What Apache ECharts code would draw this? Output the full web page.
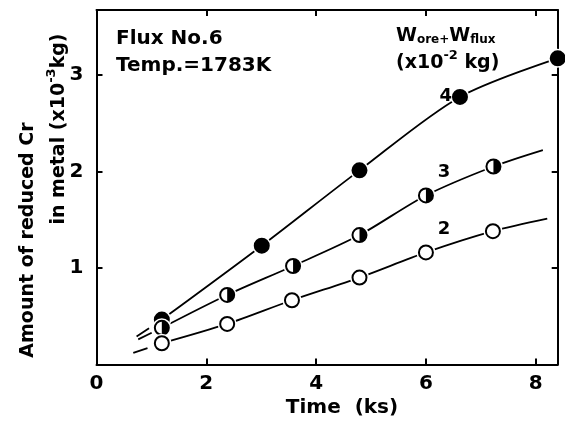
<!DOCTYPE html>
<html>
<head>
<meta charset="utf-8">
<script src="https://cdn.jsdelivr.net/npm/echarts@6/dist/echarts.min.js"></script>
<style>
html, body { margin: 0; background: #fff; }
#main { width: 565px; height: 423px; }
</style>
</head>
<body>
<div id="main"></div>
<script>
// measured points, W = 2, 3, 4 (x10^-2 kg)
var time2 = [1.19, 2.38, 3.56, 4.79, 6.00, 7.22];
var cr2 = [0.22, 0.42, 0.665, 0.90, 1.16, 1.38];
var time3 = [1.19, 2.38, 3.58, 4.79, 6.00, 7.23];
var cr3 = [0.38, 0.72, 1.02, 1.34, 1.75, 2.05];
var time4 = [1.19, 3.01, 4.79, 6.62, 8.40];
var cr4 = [0.465, 1.23, 2.01, 2.77, 3.17];

// fitted curves: dashed start, solid end beyond last point
var dashStart2 = [0.67, 0.12];
var dashStart3 = [0.76, 0.26];
var dashStart4 = [0.73, 0.29];
var curveEnd2 = [8.21, 1.51];
var curveEnd3 = [8.13, 2.22];

var curveLabels = [['4', 6.36, 2.78], ['3', 6.33, 1.99], ['2', 6.33, 1.40]];
var xTicks = [0, 2, 4, 6, 8];
var yTicks = [1, 2, 3];

var FONT = 'DejaVu Sans';
var myChart = echarts.init(document.getElementById('main'));

function pairs(xs, ys) {
    return xs.map(function (x, i) { return [x, ys[i]]; });
}

function curve(xs, ys, end) {
    var d = pairs(xs, ys);
    if (end) d.push(end);
    return {
        type: 'line', data: d, smooth: 0.3, showSymbol: false, symbol: 'none',
        lineStyle: { color: '#000', width: 1.8 }, z: 2, silent: true
    };
}

function dashed(start, xs, ys) {
    return {
        type: 'line', data: [start, [xs[0], ys[0]]], showSymbol: false, symbol: 'none',
        lineStyle: { color: '#000', width: 1.8, type: [15, 6] }, z: 2, silent: true
    };
}

function markers(xs, ys, kind) {
    return {
        type: 'custom', clip: false, z: 5, silent: true,
        data: pairs(xs, ys),
        renderItem: function (params, api) {
            var p = api.coord([api.value(0), api.value(1)]);
            var r = 7;
            var kids = [
                { type: 'circle', shape: { cx: p[0], cy: p[1], r: r + 2.5 }, style: { fill: '#fff' } },
                { type: 'circle', shape: { cx: p[0], cy: p[1], r: r },
                  style: { fill: kind === 'full' ? '#000' : '#fff', stroke: '#000', lineWidth: 2 } }
            ];
            if (kind === 'half') {
                kids.push({ type: 'sector',
                    shape: { cx: p[0], cy: p[1], r0: 0, r: r, startAngle: -Math.PI / 2, endAngle: Math.PI / 2 },
                    style: { fill: '#000' } });
            }
            return { type: 'group', children: kids };
        }
    };
}

function tickFmt(list) {
    return function (v) { return list.indexOf(Math.round(v * 100) / 100) >= 0 ? String(v) : ''; };
}

var axisCommon = {
    type: 'value',
    axisLine: { show: true, onZero: false, lineStyle: { color: '#000', width: 2 } },
    axisTick: { show: true, inside: true, length: 6, lineStyle: { color: '#000', width: 2 } },
    splitLine: { show: false }
};

var supRich = {
    t: { fontSize: 19, fontWeight: 'bold', fontFamily: FONT, lineHeight: 24, verticalAlign: 'bottom' },
    sup: { fontSize: 13, fontWeight: 'bold', fontFamily: FONT, lineHeight: 24, verticalAlign: 'top' }
};

myChart.setOption({
    animation: false,
    grid: { left: 96.5, right: 7.3, top: 10, bottom: 58.5, outerBoundsMode: 'none' },
    xAxis: [
        Object.assign({}, axisCommon, {
            min: 0, max: 8.4, interval: 2, position: 'bottom',
            axisLabel: { color: '#000', fontSize: 20, fontWeight: 'bold', fontFamily: FONT, margin: 9,
                         formatter: tickFmt(xTicks), showMaxLabel: false }
        }),
        Object.assign({}, axisCommon, {
            min: 0, max: 8.4, interval: 2, position: 'top', axisLabel: { show: false }
        })
    ],
    yAxis: [
        Object.assign({}, axisCommon, {
            min: 0, max: 3.67, interval: 1, position: 'left',
            axisLabel: { color: '#000', fontSize: 20, fontWeight: 'bold', fontFamily: FONT, margin: 13,
                         formatter: tickFmt(yTicks), showMinLabel: false, showMaxLabel: false }
        }),
        Object.assign({}, axisCommon, {
            min: 0, max: 3.67, interval: 1, position: 'right', axisLabel: { show: false }
        })
    ],
    series: [
        curve(time4, cr4, null),
        curve(time3, cr3, curveEnd3),
        curve(time2, cr2, curveEnd2),
        dashed(dashStart4, time4, cr4),
        dashed(dashStart3, time3, cr3),
        dashed(dashStart2, time2, cr2),
        markers(time4, cr4, 'full'),
        markers(time3, cr3, 'half'),
        markers(time2, cr2, 'open'),
        {
            type: 'scatter', symbolSize: 0, z: 6, silent: true,
            itemStyle: { opacity: 1 },
            data: curveLabels.map(function (c) { return { name: c[0], value: [c[1], c[2]] }; }),
            label: { show: true, position: 'inside', formatter: '{b}', color: '#000', opacity: 1,
                     fontSize: 18, fontWeight: 'bold', fontFamily: FONT }
        }
    ],
    graphic: [
        { type: 'text', left: 116, top: 29,
          style: { text: 'Flux No.6', fill: '#000', font: 'bold 20px "DejaVu Sans"' } },
        { type: 'text', left: 116, top: 56,
          style: { text: 'Temp.=1783K', fill: '#000', font: 'bold 20px "DejaVu Sans"' } },
        { type: 'text', left: 396, top: 27,
          style: {
              text: '{w|W}{s|ore}{s|+}{w|W}{s|flux}',
              fill: '#000',
              rich: {
                  w: { fontSize: 19, fontWeight: 'bold', fontFamily: FONT, lineHeight: 22, verticalAlign: 'bottom' },
                  s: { fontSize: 12, fontWeight: 'bold', fontFamily: FONT, lineHeight: 22, verticalAlign: 'bottom', padding: [4, 0, 0, 0] }
              }
          } },
        { type: 'text', left: 396, top: 49,
          style: { text: '{t|(x10}{sup|-2}{t| kg)}', fill: '#000', rich: supRich } },
        { type: 'text', x: 342, y: 408,
          style: { text: 'Time  (ks)', fill: '#000', font: 'bold 20px "DejaVu Sans"', align: 'center', verticalAlign: 'middle' } },
        { type: 'text', x: 28.5, y: 240, rotation: Math.PI / 2,
          style: { text: 'Amount of reduced Cr', fill: '#000', font: 'bold 19px "DejaVu Sans"', align: 'center', verticalAlign: 'middle' } },
        { type: 'text', x: 57, y: 129, rotation: Math.PI / 2,
          style: { text: '{t|in metal (x10}{sup|-3}{t|kg)}', fill: '#000', rich: supRich, align: 'center', verticalAlign: 'middle' } }
    ]
});
</script>
</body>
</html>
